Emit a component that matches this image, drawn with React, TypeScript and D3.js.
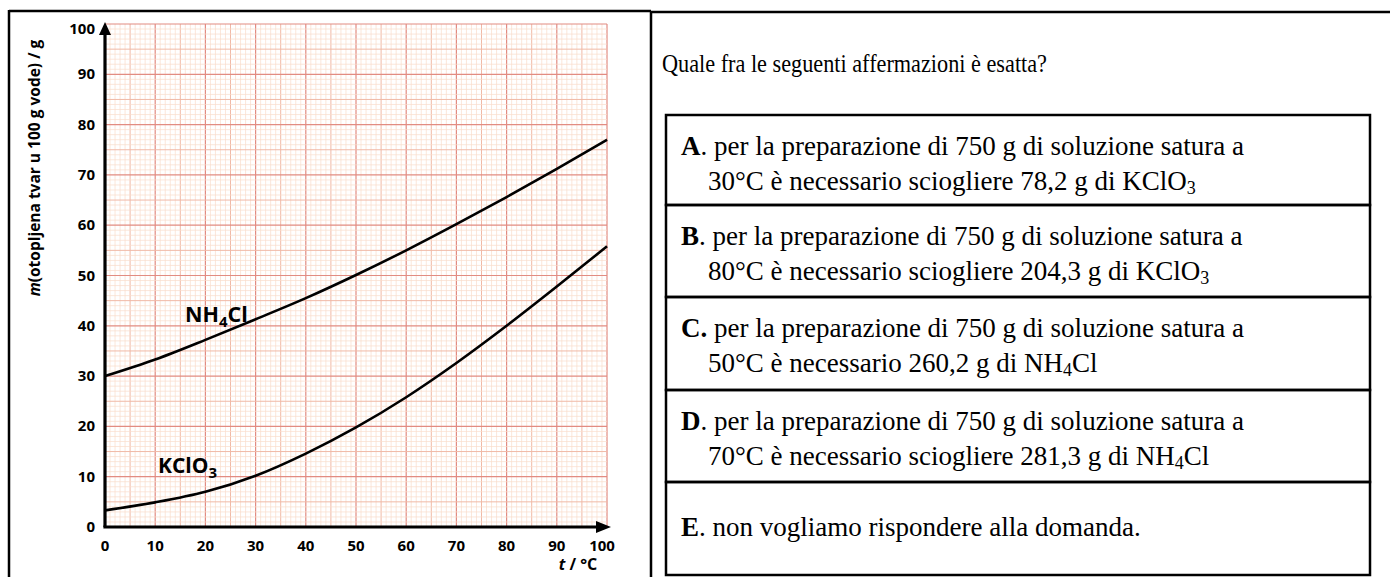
import React from 'react';
import * as d3 from 'd3';

// solubility data (g per 100 g water)
const temps = [0, 10, 20, 30, 40, 50, 60, 70, 80, 90, 100];
const nh4cl = [30, 33.3, 37.2, 41.3, 45.5, 50.1, 55, 60.2, 65.6, 71.2, 77];
const kclo3 = [3.3, 4.9, 7, 10.2, 14.6, 19.8, 25.8, 32.6, 40, 47.8, 55.8];

const xTicks = [0, 10, 20, 30, 40, 50, 60, 70, 80, 90, 100];
const yTicks = [0, 10, 20, 30, 40, 50, 60, 70, 80, 90, 100];

const question = 'Quale fra le seguenti affermazioni è esatta?';
const optionKeys = ['A', 'B', 'C', 'D', 'E'];
const optionSep = ['.', '.', '.', '.', '.'];
const optionLine1 = [
  'per la preparazione di 750 g di soluzione satura a',
  'per la preparazione di 750 g di soluzione satura a',
  'per la preparazione di 750 g di soluzione satura a',
  'per la preparazione di 750 g di soluzione satura a',
  'non vogliamo rispondere alla domanda.',
];
// second line segments: [text, isSubscript]
const optionLine2: [string, boolean][][] = [
  [['30°C è necessario sciogliere 78,2 g di KClO', false], ['3', true]],
  [['80°C è necessario sciogliere 204,3 g di KClO', false], ['3', true]],
  [['50°C è necessario 260,2 g di NH', false], ['4', true], ['Cl', false]],
  [['70°C è necessario sciogliere 281,3 g di NH', false], ['4', true], ['Cl', false]],
  [],
];

const W = 1390;
const H = 577;
const sans = '"Open Sans", "DejaVu Sans", sans-serif';
const serif = '"Liberation Serif", "Times New Roman", serif';

const App = () => {
  const x = d3.scaleLinear().domain([0, 100]).range([105, 607]);
  const y = d3.scaleLinear().domain([0, 100]).range([527, 24]);

  const line = d3.line<number>()
    .x((d, i) => x(temps[i]))
    .y(d => y(d))
    .curve(d3.curveMonotoneX);

  const grid = d3.range(0, 101, 1);
  const gridColor = (v: number) => (v % 10 === 0 ? '#e28c82' : v % 5 === 0 ? '#f0b9a6' : '#f9dccc');
  const gridWidth = (v: number) => (v % 10 === 0 ? 1.2 : v % 5 === 0 ? 1 : 0.7);
  const order = (v: number) => (v % 10 === 0 ? 2 : v % 5 === 0 ? 1 : 0);
  const sorted = [...grid].sort((a, b) => order(a) - order(b));

  const boxLeft = 666;
  const boxRight = 1370;
  const boxTops = [115, 205, 297, 390, 482];
  const boxBottom = 575;
  const fs = 27;

  return (
    <div style={{ position: 'absolute', left: 0, top: 0 }}>
      <svg width={W} height={H} style={{ display: 'block', background: '#fff' }}>
        {/* table frame */}
        <line x1={9} y1={11} x2={651} y2={11} stroke="#000" strokeWidth={2.5} />
        <line x1={651} y1={12} x2={W} y2={12} stroke="#000" strokeWidth={2.5} />
        <line x1={9} y1={10} x2={9} y2={H} stroke="#000" strokeWidth={2.5} />
        <line x1={651} y1={11} x2={651} y2={H} stroke="#000" strokeWidth={2.5} />

        {/* graph paper */}
        <g>
          {sorted.map(v => (
            <line key={'v' + v} x1={x(v)} x2={x(v)} y1={y(0)} y2={y(100)}
              stroke={gridColor(v)} strokeWidth={gridWidth(v)} />
          ))}
          {sorted.map(v => (
            <line key={'h' + v} x1={x(0)} x2={x(100)} y1={y(v)} y2={y(v)}
              stroke={gridColor(v)} strokeWidth={gridWidth(v)} />
          ))}
        </g>

        {/* curves */}
        <path d={line(nh4cl) || ''} fill="none" stroke="#000" strokeWidth={2.6} />
        <path d={line(kclo3) || ''} fill="none" stroke="#000" strokeWidth={2.6} />

        {/* axes */}
        <line x1={x(0)} y1={y(0)} x2={x(0)} y2={y(100) + 8} stroke="#000" strokeWidth={3.2} />
        <path d={`M${x(0)},${y(100) - 2} l-6,13 l12,0 z`} fill="#000" />
        <line x1={x(0) - 1.6} y1={y(0)} x2={x(100) - 8} y2={y(0)} stroke="#000" strokeWidth={3.2} />
        <path d={`M${x(100) + 4},${y(0)} l-15,-6 l0,12 z`} fill="#000" />

        {/* tick labels */}
        {yTicks.map(v => (
          <text key={'yt' + v} x={95} y={y(v) + (v === 100 ? 10 : 5)} textAnchor="end"
            fontFamily={sans} fontWeight={700} fontSize={15} fill="#000">{v}</text>
        ))}
        {xTicks.map(v => (
          <text key={'xt' + v} x={x(v) + (v === 100 ? -5 : 0)} y={551} textAnchor="middle"
            fontFamily={sans} fontWeight={700} fontSize={15} fill="#000">{v}</text>
        ))}

        {/* axis titles */}
        <text x={578} y={570} textAnchor="middle" fontFamily={sans} fontWeight={700} fontSize={16}>
          <tspan fontStyle="italic">t</tspan> / °C
        </text>
        <text transform="translate(40,168) rotate(-90)" textAnchor="middle"
          fontFamily={sans} fontWeight={700} fontSize={15.5}>
          <tspan fontStyle="italic">m</tspan>(otopljena tvar u 100 g vode) / g
        </text>

        {/* curve labels */}
        <text x={185} y={322} fontFamily={sans} fontWeight={700} fontSize={21.5}>
          NH<tspan fontSize={15} dy={5}>4</tspan><tspan dy={-5}>Cl</tspan>
        </text>
        <text x={158} y={473} fontFamily={sans} fontWeight={700} fontSize={21}>
          KClO<tspan fontSize={15} dy={5}>3</tspan>
        </text>

        {/* question */}
        <text x={662} y={72} fontFamily={serif} fontSize={25} fill="#000"
          textLength={385} lengthAdjust="spacingAndGlyphs">{question}</text>

        {/* answer boxes */}
        {boxTops.map((top, i) => {
          const bottom = i < boxTops.length - 1 ? boxTops[i + 1] : boxBottom;
          const single = optionLine2[i].length === 0;
          return (
            <g key={'box' + i}>
              <rect x={boxLeft} y={top} width={boxRight - boxLeft} height={bottom - top}
                fill="none" stroke="#000" strokeWidth={2.5} />
              <text x={681} y={single ? top + 54 : top + 40} fontFamily={serif} fontSize={fs} fill="#000">
                <tspan fontWeight={700}>{optionKeys[i]}</tspan>
                <tspan fontWeight={i === 2 ? 700 : 400}>{optionSep[i]}</tspan>
                <tspan>{single ? ' ' : '  '}{optionLine1[i]}</tspan>
              </text>
              {!single && (
                <text x={708} y={top + 75} fontFamily={serif} fontSize={fs} fill="#000">
                  {optionLine2[i].map(([t, sub], j) => (
                    <tspan key={j} fontSize={sub ? 18 : fs} dy={sub ? 4 : (j > 0 ? -4 : 0)}>{t}</tspan>
                  ))}
                </text>
              )}
            </g>
          );
        })}
      </svg>
    </div>
  );
};

export default App;
